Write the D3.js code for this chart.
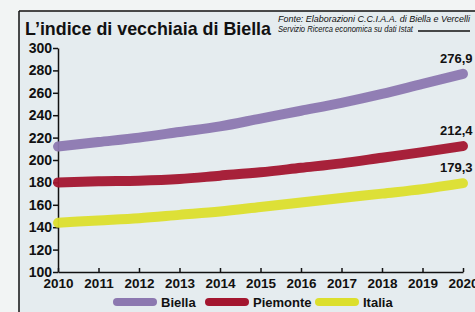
<!DOCTYPE html>
<html>
<head>
<meta charset="UTF-8">
<title>L'indice di vecchiaia di Biella</title>
<style>
  body { margin: 0; background: #f2f4f4; }
  svg text { font-family: "Liberation Sans", Arial, sans-serif; }
</style>
</head>
<body>
<div id="chart"></div>
<script src="https://d3js.org/d3.v7.min.js"></script>
<script>
var years = [2010, 2011, 2012, 2013, 2014, 2015, 2016, 2017, 2018, 2019, 2020];
var biella = [212, 216, 220, 225, 230, 237, 244, 251, 259, 268, 276.9];
var piemonte = [180, 181, 181.5, 183, 186, 189, 193, 197, 202, 207, 212.4];
var italia = [144, 146, 148, 151, 154, 158, 162, 166, 170, 174, 179.3];
var seriesNames = ["Biella", "Piemonte", "Italia"];
var endLabels = ["276,9", "212,4", "179,3"];
var yTicks = [100, 120, 140, 160, 180, 200, 220, 240, 260, 280, 300];

var width = 475, height = 312;
var colors = ["#8c78b0", "#a3162f", "#dcdf2c"];

var svg = d3.select("#chart").append("svg")
    .attr("width", width)
    .attr("height", height);

// paper background + frame
svg.append("rect").attr("x", 0).attr("y", 0).attr("width", width).attr("height", height).attr("fill", "#f2f4f4");
svg.append("rect").attr("x", 19).attr("y", 11).attr("width", width).attr("height", height).attr("fill", "#e5ecef");
svg.append("line").attr("x1", 19).attr("x2", 19).attr("y1", 11).attr("y2", height)
    .attr("stroke", "#111").attr("stroke-width", 1.5);
svg.append("line").attr("x1", 19).attr("x2", width).attr("y1", 11).attr("y2", 11)
    .attr("stroke", "#111").attr("stroke-width", 1.5);

// title and source
svg.append("text")
    .attr("x", 25).attr("y", 35)
    .attr("font-size", 19).attr("font-weight", "bold").attr("fill", "#111")
    .attr("textLength", 246).attr("lengthAdjust", "spacingAndGlyphs")
    .text("L’indice di vecchiaia di Biella");
svg.append("text")
    .attr("x", 278).attr("y", 21.5)
    .attr("font-size", 9).attr("font-style", "italic").attr("fill", "#111")
    .attr("textLength", 192).attr("lengthAdjust", "spacingAndGlyphs")
    .text("Fonte: Elaborazioni C.C.I.A.A. di Biella e Vercelli");
svg.append("text")
    .attr("x", 278).attr("y", 31.5)
    .attr("font-size", 9).attr("font-style", "italic").attr("fill", "#111")
    .attr("textLength", 135).attr("lengthAdjust", "spacingAndGlyphs")
    .text("Servizio Ricerca economica su dati Istat");
svg.append("line").attr("x1", 418).attr("x2", 470).attr("y1", 31).attr("y2", 31)
    .attr("stroke", "#111").attr("stroke-width", 1.5);

var x = d3.scaleLinear().domain([2010, 2020]).range([58, 463]);
var y = d3.scaleLinear().domain([100, 300]).range([272, 48]);

// axes
var yAxis = svg.append("g")
    .attr("transform", "translate(58,0)")
    .call(d3.axisLeft(y).tickValues(yTicks).tickSizeInner(5).tickSizeOuter(0).tickPadding(1));
var xAxis = svg.append("g")
    .attr("transform", "translate(0,272)")
    .call(d3.axisBottom(x).tickValues(years).tickFormat(d3.format("d"))
        .tickSizeInner(-4).tickSizeOuter(0).tickPadding(6));

[yAxis, xAxis].forEach(function(g) {
    g.select(".domain").attr("stroke", "#111").attr("stroke-width", 1.5);
    g.selectAll(".tick line").attr("stroke", "#111").attr("stroke-width", 1.5);
    g.selectAll(".tick text")
        .attr("fill", "#111")
        .style("font-family", "'Liberation Sans', Arial, sans-serif")
        .style("font-weight", "bold");
});
yAxis.selectAll(".tick text").style("font-size", "14px");
xAxis.selectAll(".tick text").style("font-size", "13.5px");

// lines
var data = [biella, piemonte, italia];
var line = d3.line()
    .x(function(d, i) { return x(years[i]); })
    .y(function(d) { return y(d); })
    .curve(d3.curveMonotoneX);

svg.append("g").selectAll("path")
    .data(data)
    .join("path")
    .attr("d", line)
    .attr("fill", "none")
    .attr("stroke", function(d, i) { return colors[i]; })
    .attr("stroke-width", 10)
    .attr("stroke-linecap", "round")
    .attr("opacity", 0.95);

// end value labels
svg.append("g").selectAll("text")
    .data(data)
    .join("text")
    .attr("x", 440)
    .attr("y", function(d) { return y(d[d.length - 1]) - 11; })
    .attr("font-size", 13).attr("font-weight", "bold").attr("fill", "#111")
    .text(function(d, i) { return endLabels[i]; });

// legend
var legendX = [113, 205, 315];
var legend = svg.append("g").selectAll("g")
    .data(seriesNames)
    .join("g")
    .attr("transform", function(d, i) { return "translate(" + legendX[i] + ",302)"; });
legend.append("line")
    .attr("x1", 4).attr("x2", 40).attr("y1", 0).attr("y2", 0)
    .attr("stroke", function(d, i) { return colors[i]; })
    .attr("stroke-width", 8)
    .attr("stroke-linecap", "round");
legend.append("text")
    .attr("x", 48).attr("y", 5)
    .attr("font-size", 13).attr("font-weight", "bold").attr("fill", "#111")
    .text(function(d) { return d; });
</script>
</body>
</html>
